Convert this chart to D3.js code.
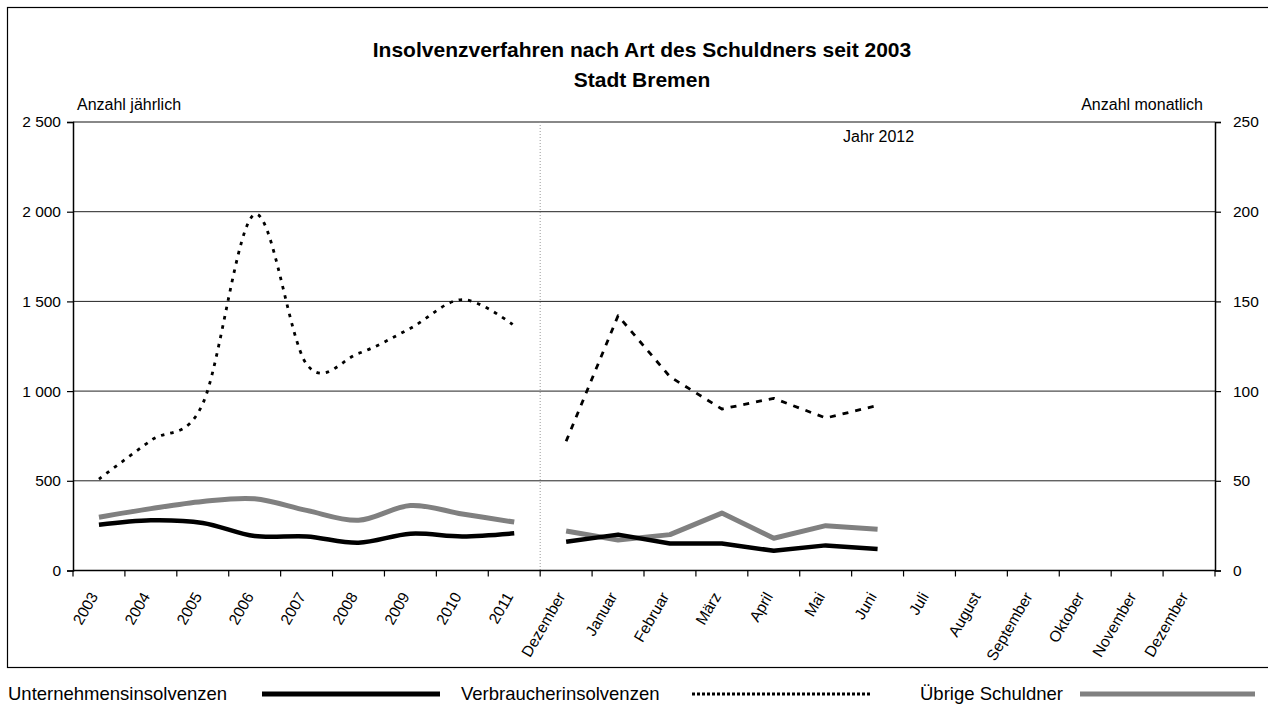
<!DOCTYPE html>
<html>
<head>
<meta charset="utf-8">
<script src="https://cdn.jsdelivr.net/npm/d3@7"></script>
<style>
  body { margin: 0; background: #fff; }
  svg text { font-family: "Liberation Sans", Arial, sans-serif; fill: #000; }
</style>
</head>
<body>
<div id="chart"></div>
<script>
// categories: 9 years, then Dezember 2011 and the months of 2012
const years = ["2003", "2004", "2005", "2006", "2007", "2008", "2009", "2010", "2011"];
const months = ["Dezember", "Januar", "Februar", "März", "April", "Mai", "Juni",
                "Juli", "August", "September", "Oktober", "November", "Dezember"];

// yearly values (left axis)
const unternehmenJahr = [255, 280, 265, 192, 190, 155, 205, 190, 207];
const verbraucherJahr = [510, 725, 930, 1985, 1150, 1210, 1350, 1510, 1365];
const uebrigeJahr = [297, 345, 385, 400, 335, 280, 362, 315, 270];

// monthly values Dez 2011 .. Juni 2012 (right axis)
const unternehmenMonat = [16, 20, 15, 15, 11, 14, 12];
const verbraucherMonat = [72, 142, 108, 90, 96, 85, 92];
const uebrigeMonat = [22, 17, 20, 32, 18, 25, 23];

const leftTicks = [0, 500, 1000, 1500, 2000, 2500];
const rightTicks = [0, 50, 100, 150, 200, 250];

const W = 1268, H = 704;
const m = { left: 73, right: 1215, top: 122, bottom: 570.5 };

const svg = d3.select("#chart").append("svg")
  .attr("width", W).attr("height", H);

const fmt = d3.formatLocale({ decimal: ",", thousands: " ", grouping: [3], currency: ["", "€"] }).format(",d");

// keys for the band scale (Dezember appears twice)
const cats = years.concat(months);
const keys = cats.map((c, i) => i);

const x = d3.scaleBand().domain(keys).range([m.left, m.right]);
const yL = d3.scaleLinear().domain([0, 2500]).range([m.bottom, m.top]);
const yR = d3.scaleLinear().domain([0, 250]).range([m.bottom, m.top]);
const cx = (i) => x(i) + x.bandwidth() / 2;

// frame
svg.append("rect")
  .attr("x", 7.5).attr("y", 7.5).attr("width", 1275).attr("height", 660)
  .attr("fill", "none").attr("stroke", "#000").attr("stroke-width", 1.2);

// title
svg.append("text").attr("x", 642).attr("y", 57).attr("text-anchor", "middle")
  .style("font-size", "21px").style("font-weight", "bold")
  .text("Insolvenzverfahren nach Art des Schuldners seit 2003");
svg.append("text").attr("x", 642).attr("y", 87).attr("text-anchor", "middle")
  .style("font-size", "21px").style("font-weight", "bold")
  .text("Stadt Bremen");

// gridlines
svg.append("g").selectAll("line")
  .data(leftTicks.filter(d => d > 0 && d < 2500))
  .enter().append("line")
  .attr("x1", m.left).attr("x2", m.right)
  .attr("y1", d => yL(d)).attr("y2", d => yL(d))
  .attr("stroke", "#222").attr("stroke-width", 1);
svg.append("line")
  .attr("x1", m.left).attr("x2", m.right)
  .attr("y1", m.top).attr("y2", m.top)
  .attr("stroke", "#888").attr("stroke-width", 2.2);

// separator between years and months
svg.append("line")
  .attr("x1", x(9)).attr("x2", x(9))
  .attr("y1", m.top).attr("y2", m.bottom)
  .attr("stroke", "#999").attr("stroke-width", 1)
  .attr("stroke-dasharray", "1,2");

// axes
const axL = svg.append("g").attr("transform", "translate(" + m.left + ",0)")
  .call(d3.axisLeft(yL).tickValues(leftTicks).tickSize(6).tickPadding(6).tickFormat(fmt));
const axR = svg.append("g").attr("transform", "translate(" + m.right + ",0)")
  .call(d3.axisRight(yR).tickValues(rightTicks).tickSize(6).tickPadding(12).tickFormat(d3.format("d")));
const axB = svg.append("g").attr("transform", "translate(0," + m.bottom + ")")
  .call(d3.axisBottom(x).tickSize(0).tickFormat(""));

[axL, axR, axB].forEach(a => {
  a.select(".domain").attr("stroke", "#000").attr("stroke-width", 1.5);
  a.selectAll(".tick line").attr("stroke", "#000").attr("stroke-width", 1.2);
  a.selectAll("text").style("font-size", "15.5px").attr("fill", "#000");
});
axB.select(".domain").attr("d", "M" + m.left + ",0H" + m.right);

// category boundary ticks
svg.append("g").selectAll("line")
  .data(d3.range(cats.length + 1))
  .enter().append("line")
  .attr("x1", i => m.left + i * x.step()).attr("x2", i => m.left + i * x.step())
  .attr("y1", m.bottom).attr("y2", m.bottom + 6)
  .attr("stroke", "#000").attr("stroke-width", 1.2);

// rotated category labels
svg.append("g").selectAll("text")
  .data(keys)
  .enter().append("text")
  .attr("transform", i => "translate(" + (cx(i) - 5) + "," + (m.bottom + 23) + ") rotate(-60)")
  .attr("text-anchor", "end")
  .attr("dy", "0.35em")
  .style("font-size", "15.5px")
  .text(i => cats[i]);

// axis titles
svg.append("text").attr("x", 77).attr("y", 110).style("font-size", "16px").text("Anzahl jährlich");
svg.append("text").attr("x", 1203).attr("y", 110).attr("text-anchor", "end")
  .style("font-size", "16px").text("Anzahl monatlich");
svg.append("text").attr("x", 843).attr("y", 142).style("font-size", "16px").text("Jahr 2012");

// series
const lineYear = d3.line().x((d, i) => cx(i)).y(d => yL(d)).curve(d3.curveCardinal.tension(0));
const lineMonth = d3.line().x((d, i) => cx(i + 9)).y(d => yR(d));

const series = [
  { name: "Übrige Schuldner", year: uebrigeJahr, month: uebrigeMonat, color: "#808080", width: 5, dash: null, dashYear: null },
  { name: "Unternehmensinsolvenzen", year: unternehmenJahr, month: unternehmenMonat, color: "#000", width: 4.5, dash: null, dashYear: null },
  { name: "Verbraucherinsolvenzen", year: verbraucherJahr, month: verbraucherMonat, color: "#000", width: 2.8, dash: "6,7", dashYear: "3.5,6" }
];

series.forEach(s => {
  svg.append("path").attr("d", lineYear(s.year))
    .attr("fill", "none").attr("stroke", s.color).attr("stroke-width", s.width)
    .attr("stroke-dasharray", s.dashYear).attr("stroke-linejoin", "round");
  svg.append("path").attr("d", lineMonth(s.month))
    .attr("fill", "none").attr("stroke", s.color).attr("stroke-width", s.width)
    .attr("stroke-dasharray", s.dash).attr("stroke-linejoin", "round");
});

// legend
const legend = [
  { name: "Unternehmensinsolvenzen", tx: 8, x1: 262, x2: 440, color: "#000", width: 5, dash: null },
  { name: "Verbraucherinsolvenzen", tx: 461, x1: 692, x2: 872, color: "#000", width: 3, dash: "3,2" },
  { name: "Übrige Schuldner", tx: 920, x1: 1080, x2: 1255, color: "#808080", width: 5, dash: null }
];
const lg = svg.append("g");
legend.forEach(l => {
  lg.append("text").attr("x", l.tx).attr("y", 700).style("font-size", "18.5px").text(l.name);
  lg.append("line").attr("x1", l.x1).attr("x2", l.x2).attr("y1", 694).attr("y2", 694)
    .attr("stroke", l.color).attr("stroke-width", l.width).attr("stroke-dasharray", l.dash);
});
</script>
</body>
</html>
